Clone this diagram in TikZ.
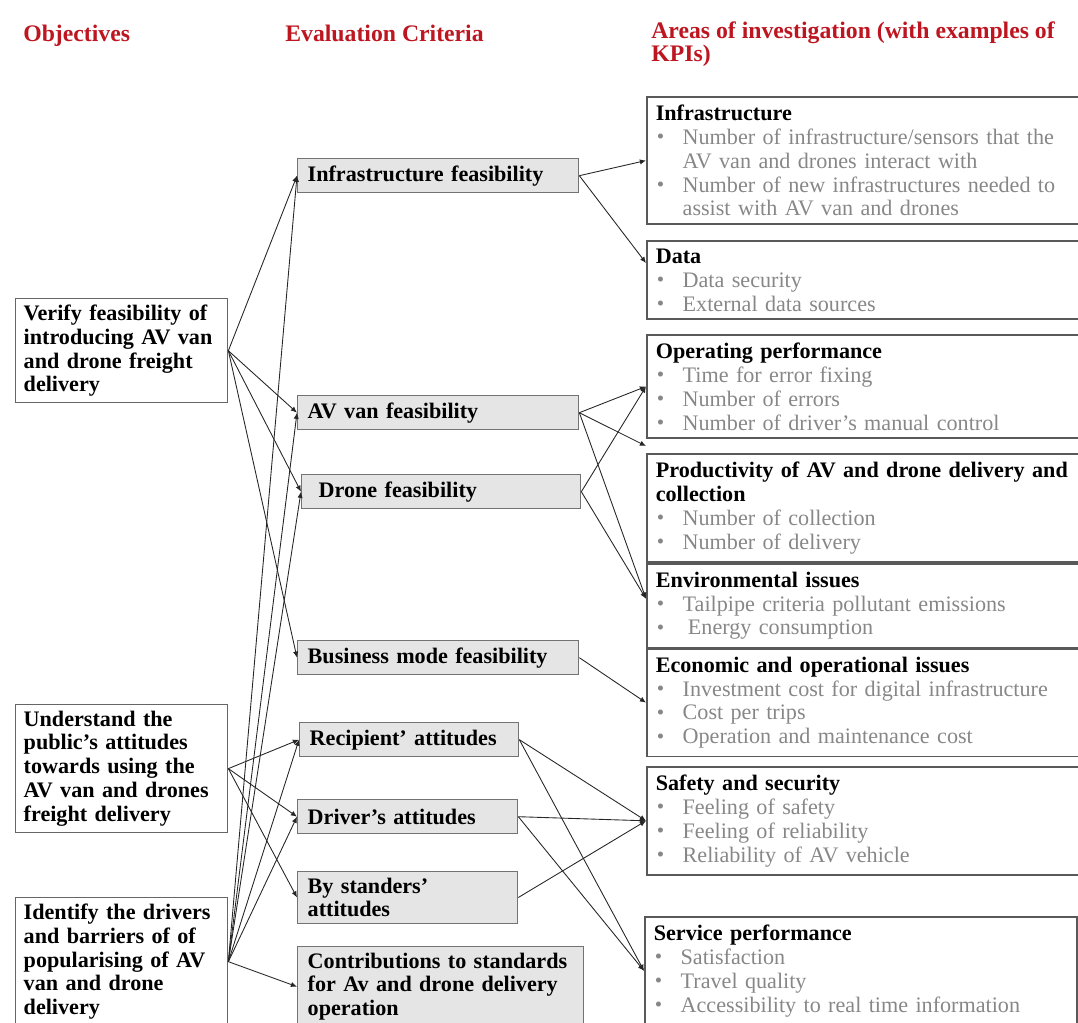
\documentclass[tikz,border=0pt]{standalone}
\usepackage{fontspec}
\setmainfont{Liberation Serif}
\usetikzlibrary{arrows.meta}
\definecolor{headred}{RGB}{190,22,32}
\definecolor{kpigray}{RGB}{135,135,135}
\definecolor{critfill}{RGB}{229,229,229}

\newcommand{\bodysize}{\fontsize{12.6}{13.6}\selectfont}
% one KPI line with a small bullet, and its continuation line
\newcommand{\kpi}[1]{\par\noindent
  \makebox[15.3pt][l]{\hspace{0.6pt}\raisebox{0.2pt}{\textcolor{kpigray}{\fontsize{12}{12}\selectfont\textbullet}}}%
  \textcolor{kpigray}{#1}}
\newcommand{\kpimore}[1]{\par\noindent\hspace*{15.3pt}\textcolor{kpigray}{#1}}

\begin{document}
\begin{tikzpicture}[x=0.02cm, y=-0.02cm,
    colhead/.style={anchor=north west, inner sep=0pt, text=headred, align=left,
        font=\fontsize{13.5}{13.2}\selectfont\bfseries},
    objbox/.style={anchor=north west, draw=black!60, line width=0.8pt,
        inner xsep=0.16cm, inner ysep=0.12cm, text width=3.92cm, align=left, font=\bodysize\bfseries},
    critbox/.style={anchor=north west, draw=black!55, fill=critfill, line width=0.8pt,
        inner xsep=0.2cm, inner ysep=0.12cm, minimum height=0.68cm, align=left, font=\bodysize\bfseries},
    kpibox/.style={anchor=north west, draw=black!65, line width=0.9pt,
        inner xsep=0.18cm, inner ysep=0.16cm, text width=8.28cm, align=left, font=\bodysize},
    link/.style={-{Latex[length=3.5pt,width=3pt]}, line width=0.5pt, black!85}]
    \useasboundingbox (0,0) rectangle (1078,1023);

    % column headings
    \node[colhead] (hObj) at (23,25) {Objectives};
    \node[colhead] (hCrit) at (285,25) {Evaluation Criteria};
    \node[colhead] (hArea) at (651,21) {Areas of investigation (with examples of\\KPIs)};

    % Objectives
    \node[objbox] (O1) at (15,298) {Verify feasibility of\\introducing AV van\\and drone freight\\delivery};
    \node[objbox] (O2) at (15,704) {Understand the\\public's attitudes\\towards using the\\AV van and drones\\freight delivery};
    \node[objbox] (O3) at (15,897) {Identify the drivers\\and barriers of of\\popularising of AV\\van and drone\\delivery};

    % Evaluation criteria
    \node[critbox, text width=5.22cm] (C1) at (297,158) {Infrastructure feasibility};
    \node[critbox, text width=5.22cm] (C2) at (297,395) {AV van feasibility};
    \node[critbox, text width=5.18cm] (C3) at (301,474) {\hspace*{0.14cm}Drone feasibility};
    \node[critbox, text width=5.22cm] (C4) at (297,640) {Business mode feasibility};
    \node[critbox, text width=3.98cm] (C5) at (299,722) {Recipient' attitudes};
    \node[critbox, text width=4.0cm] (C6) at (297,799) {Driver's attitudes};
    \node[critbox, text width=4.0cm] (C7) at (297,871) {By standers'\\attitudes};
    \node[critbox, text width=5.32cm] (C8) at (297,946) {Contributions to standards\\for Av and drone delivery\\operation};

    % Areas of investigation
    \node[kpibox] (A1) at (646,96) {\textbf{Infrastructure}
        \kpi{Number of infrastructure/sensors that the}
        \kpimore{AV van and drones interact with}
        \kpi{Number of new infrastructures needed to}
        \kpimore{assist with AV van and drones}};
    \node[kpibox] (A2) at (646,240) {\textbf{Data}
        \kpi{Data security}
        \kpi{External data sources}};
    \node[kpibox] (A3) at (646,334) {\textbf{Operating performance}
        \kpi{Time for error fixing}
        \kpi{Number of errors}
        \kpi{Number of driver's manual control}};
    \node[kpibox] (A4) at (646,453) {\textbf{Productivity of AV and drone delivery and}\par
        \noindent\textbf{collection}
        \kpi{Number of collection}
        \kpi{Number of delivery}};
    \node[kpibox] (A5) at (646,563) {\textbf{Environmental issues}
        \kpi{Tailpipe criteria pollutant emissions}
        \kpi{\hspace{3pt}Energy consumption}};
    \node[kpibox] (A6) at (646,648) {\textbf{Economic and operational issues}
        \kpi{Investment cost for digital infrastructure}
        \kpi{Cost per trips}
        \kpi{Operation and maintenance cost}};
    \node[kpibox] (A7) at (646,766) {\textbf{Safety and security}
        \kpi{Feeling of safety}
        \kpi{Feeling of reliability}
        \kpi{Reliability of AV vehicle}};
    \node[kpibox] (A8) at (644,916) {\textbf{Service performance}
        \kpi{Satisfaction}
        \kpi{Travel quality}
        \kpi{Accessibility to real time information}};

    % objectives -> criteria
    \foreach \c in {C1,C2,C3,C4}
        \draw[link] (O1.east) -- (\c.west);
    \foreach \c in {C5,C6,C7}
        \draw[link] (O2.east) -- (\c.west);
    \foreach \c in {C1,C2,C3,C5,C6,C8}
        \draw[link] (O3.east) -- (\c.west);

    % criteria -> areas
    \draw[link] (C1.east) -- (A1.west);
    \draw[link] (C1.east) -- ([yshift=0.34cm]A2.west);
    \draw[link] (C2.east) -- (A3.west);
    \draw[link] (C2.east) -- ([yshift=0.14cm]A4.north west);
    \draw[link] (C2.east) -- ([yshift=0.14cm]A5.west);
    \draw[link] (C3.east) -- (A3.west);
    \draw[link] (C3.east) -- ([yshift=0.14cm]A5.west);
    \draw[link] (C4.east) -- (A6.west);
    \foreach \c in {C5,C6}{
        \draw[link] (\c.east) -- (A7.west);
        \draw[link] (\c.east) -- (A8.west);
    }
    \draw[link] (C7.east) -- (A7.west);
\end{tikzpicture}
\end{document}
